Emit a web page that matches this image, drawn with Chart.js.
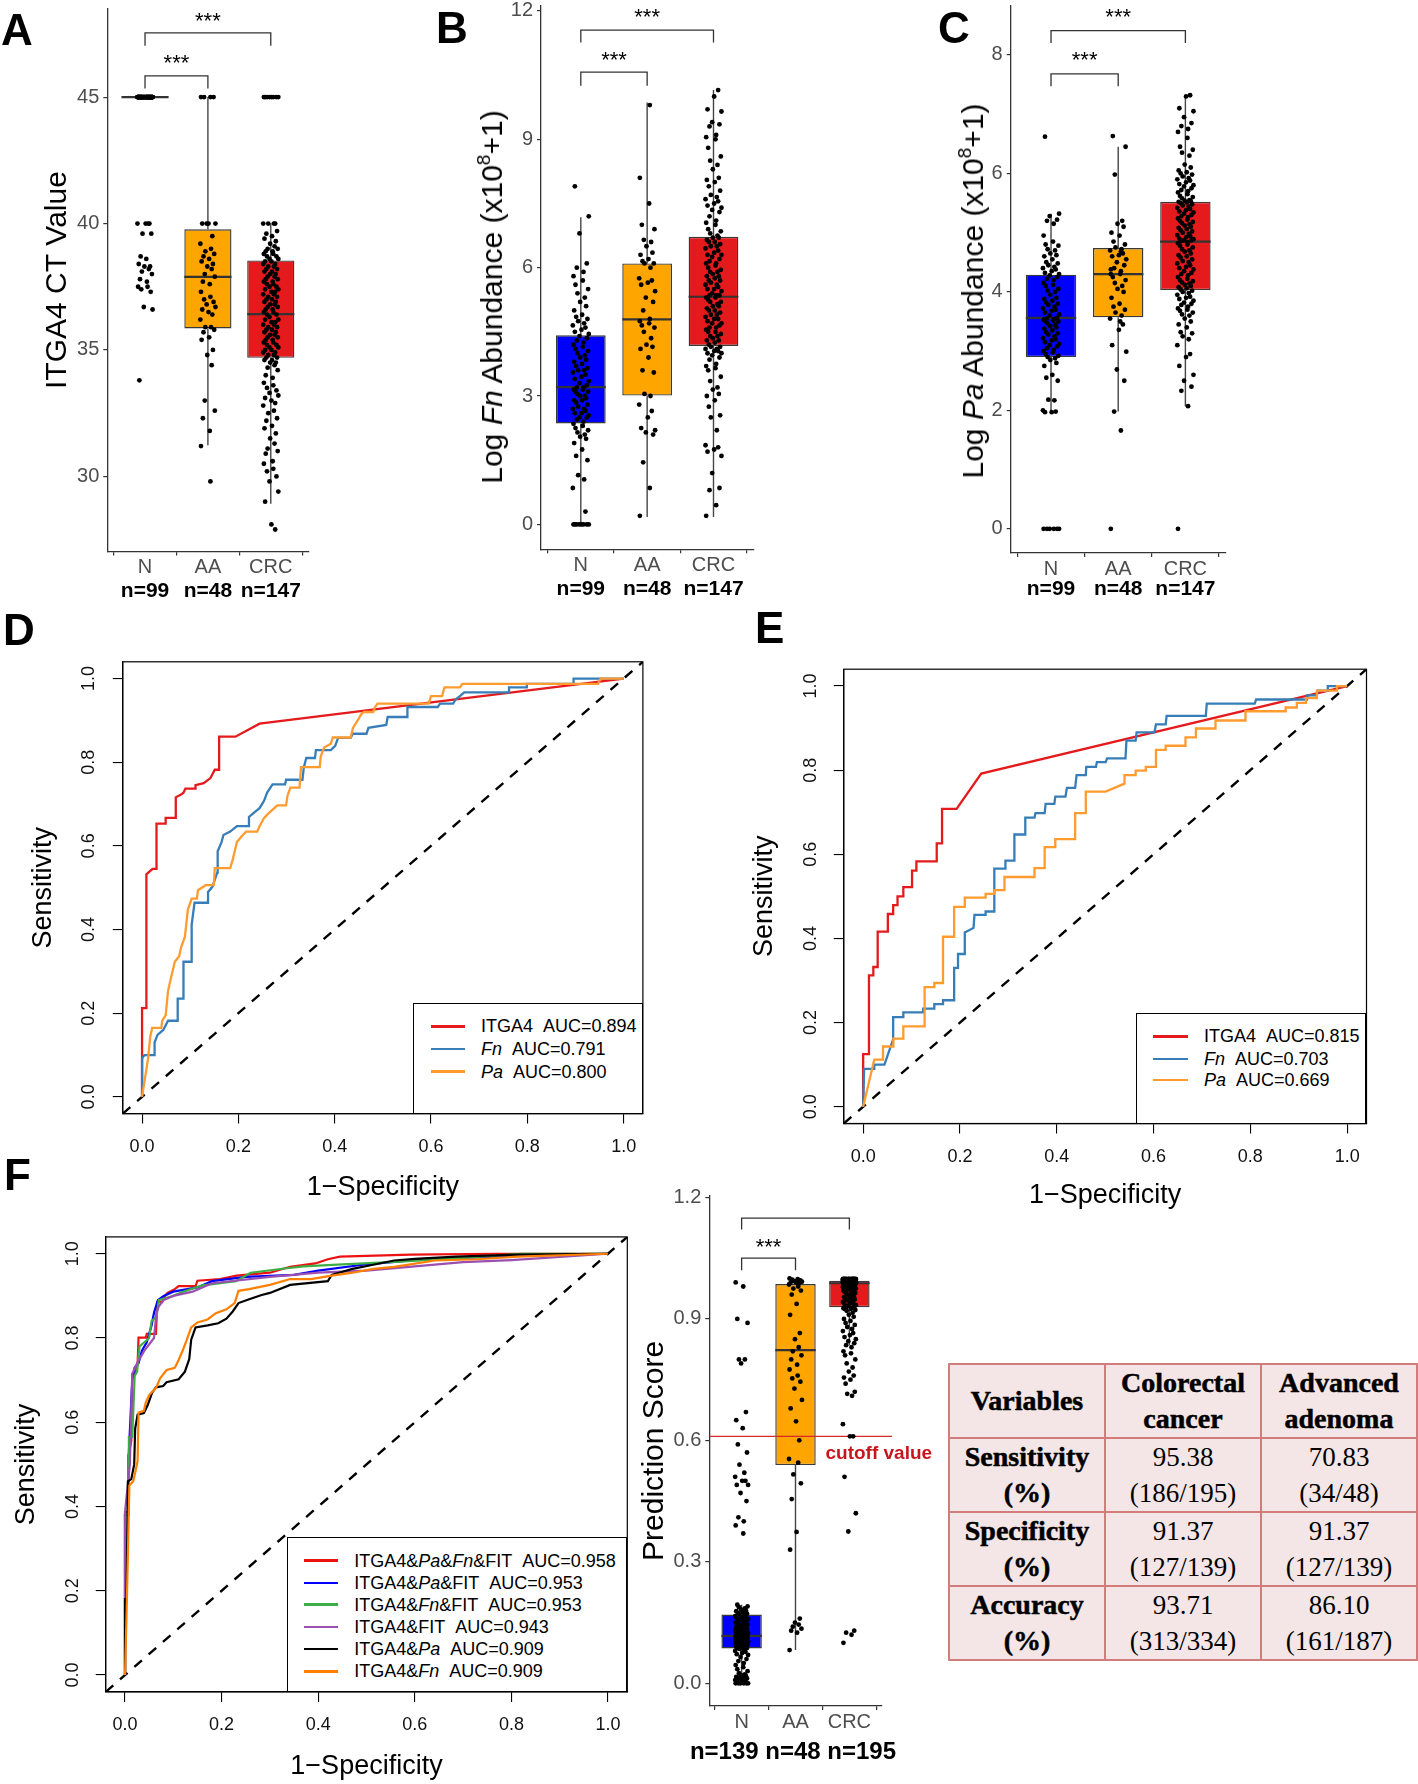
<!DOCTYPE html>
<html><head><meta charset="utf-8"><title>Figure</title>
<script src="https://cdn.jsdelivr.net/npm/chart.js@4.4.1/dist/chart.umd.min.js"></script>
<style>
html,body{margin:0;padding:0;background:#fff;}
#page{position:relative;width:1418px;height:1784px;overflow:hidden;background:#fff;font-family:"Liberation Sans",Arial,Helvetica,sans-serif;color:#000;}
#page canvas{position:absolute;}
.letter{position:absolute;font-weight:bold;font-size:44px;line-height:44px;}
.vtitle{position:absolute;white-space:nowrap;font-size:30px;line-height:36px;transform:translate(-50%,-50%) rotate(-90deg);}
.vtitle .sup{font-size:19px;position:relative;top:-12px;}
.ntitle{position:absolute;white-space:nowrap;font-size:24px;line-height:28px;font-weight:bold;transform:translate(-50%,-50%);}
.legend{position:absolute;border:1.3px solid #000;box-sizing:border-box;background:#fff;}
.legend .ln{position:absolute;height:2.4px;}
.legend .tx{position:absolute;white-space:nowrap;font-size:18px;line-height:22px;}
#tbl{position:absolute;left:948px;top:1363px;width:468px;height:292px;border-collapse:collapse;background:#F4E6E6;font-family:"Liberation Serif","Times New Roman",serif;table-layout:fixed;}
#tbl td,#tbl th{border:2px solid #D27C7C;text-align:center;vertical-align:middle;padding:0;font-size:27px;line-height:36px;color:#000;}
#tbl th{font-weight:bold;font-size:28px;-webkit-text-stroke:0.5px #000;}
</style></head><body><div id="page"></div>
<script>
const FONT = '"Liberation Sans", Arial, Helvetica, sans-serif';
Chart.defaults.font.family = FONT;

// ================= DATA =================
const CATS = ['N', 'AA', 'CRC'];
const N_ABC = [99, 48, 147];
const N_F = [139, 48, 195];
const A_TICKS = [30, 35, 40, 45];
const B_TICKS = [0, 3, 6, 9, 12];
const C_TICKS = [0, 2, 4, 6, 8];
const F_TICKS = [0, 0.3, 0.6, 0.9, 1.2];
const ROC_TICKS = [0, 0.2, 0.4, 0.6, 0.8, 1.0];

// Box statistics (N, AA, CRC)
const A_Q1 = [45, 35.85, 34.69], A_MED = [45, 37.89, 36.42], A_Q3 = [45, 39.77, 38.54], A_LO = [45, 31.23, 28.92], A_HI = [45, 45, 40];
const B_Q1 = [2.36, 3.01, 4.17], B_MED = [3.21, 4.79, 5.32], B_Q3 = [4.42, 6.10, 6.72], B_LO = [0, 0.17, 0.17], B_HI = [7.18, 9.86, 10.15];
const C_Q1 = [2.90, 3.57, 4.03], C_MED = [3.56, 4.30, 4.85], C_Q3 = [4.29, 4.74, 5.52], C_LO = [1.97, 1.98, 2.07], C_HI = [5.32, 6.45, 7.32];
const F_Q1 = [0.086, 0.539, 0.929], F_MED = [0.117, 0.823, 0.988], F_Q3 = [0.170, 0.986, 0.994], F_LO = [0, 0.082, 0.835], F_HI = [0.194, 0.998, 1.0];

// Individual sample values
const A_N = [45,45,45,45,45,45,45,45,45,45,45,45,45,45,45,45,45,45,45,45,45,45,45,45,45,45,45,45,45,45,45,45,45,45,45,45,45,45,45,45,45,45,45,45,45,45,45,45,45,45,45,45,45,45,45,45,45,45,45,45,45,45,45,45,45,45,45,45,45,45,45,45,45,45,45,45,
  40,40,40,40,39.6,39.6,38.7,38.6,38.4,38.3,38.3,38.2,38.1,38.0,37.8,37.7,37.5,37.5,37.4,37.3,36.7,36.6,33.8];
const A_AA = [45,45,45,45,40,40,40,40,39.5,39.2,39.0,38.9,38.8,38.7,38.6,38.5,38.4,38.3,38.2,38.0,37.9,37.7,37.6,37.3,37.1,37.0,36.9,36.8,36.7,36.6,36.5,36.4,36.2,35.9,35.9,35.8,35.7,35.5,35.4,35.0,34.8,34.4,33.0,32.6,32.3,31.8,31.2,29.8];
const A_CRC = [45,45,45,45,45,45,45,45,40,40,40,40,
  39.7,39.6,39.5,39.4,39.3,39.2,39.1,39.0,39.0,38.9,38.9,38.8,38.8,38.7,38.7,38.6,38.6,38.5,38.5,
  38.4,38.4,38.3,38.3,38.2,38.2,38.1,38.1,38.0,38.0,37.9,37.9,37.8,37.8,37.7,37.7,37.6,37.6,37.5,37.5,37.4,37.4,37.3,37.3,37.2,37.2,37.1,37.1,37.0,37.0,36.9,36.9,36.8,36.8,36.7,36.7,36.6,36.6,36.5,36.5,36.4,36.4,
  36.3,
  36.2,36.2,36.1,36.1,36.0,36.0,35.9,35.9,35.8,35.8,35.7,35.7,35.6,35.6,35.5,35.5,35.4,35.4,35.3,35.3,35.2,35.2,35.1,35.1,35.0,35.0,34.9,34.9,34.8,34.8,34.7,34.7,34.6,34.6,34.5,34.5,34.4,
  34.3,34.2,34.0,33.9,33.7,33.6,33.5,33.4,33.3,33.2,33.1,33.0,32.9,32.8,32.6,32.5,32.3,32.2,32.0,31.9,31.7,31.5,31.3,31.1,31.0,30.9,30.6,30.5,30.3,30.2,30.0,29.8,29.4,29.0,28.1,27.9];

const B_N = [0,0,0,0,0,0,0,0,0.3,0.85,1.05,1.15,1.5,1.6,1.75,1.9,2.0,2.05,2.1,2.15,2.2,2.25,
  2.3,2.35,2.4,2.45,2.5,2.5,2.55,2.6,2.6,2.65,2.7,2.7,2.75,2.8,2.85,2.9,2.9,2.95,3.0,3.0,3.05,3.1,3.1,3.15,3.15,3.2,3.2,
  3.25,
  3.3,3.35,3.4,3.45,3.5,3.55,3.6,3.6,3.65,3.7,3.75,3.8,3.85,3.9,3.95,4.0,4.05,4.1,4.15,4.2,4.25,4.3,4.35,4.4,4.45,
  4.5,4.55,4.6,4.65,4.7,4.75,4.8,4.85,4.9,5.0,5.1,5.2,5.3,5.4,5.5,5.6,5.7,5.8,5.9,6.0,6.1,6.8,7.2,7.9];
const B_AA = [0.2,0.85,1.45,2.1,2.15,2.2,2.25,2.5,2.65,2.8,3.0,3.05,3.55,3.6,3.9,4.1,4.15,4.2,4.35,4.5,4.6,4.65,4.7,4.75,4.8,5.0,5.2,5.3,5.45,5.6,5.65,5.7,5.75,6.0,6.1,6.1,6.15,6.2,6.3,6.35,6.5,6.6,6.65,6.9,7.0,7.5,8.1,9.8];
const B_CRC = [0.2,0.45,0.8,0.85,1.2,1.6,1.7,1.75,1.8,1.85,2.2,2.5,2.55,2.75,2.9,3.0,3.05,3.15,3.2,3.35,3.45,3.6,3.65,3.7,3.75,3.85,3.9,3.95,4.0,4.0,4.05,4.05,4.1,4.1,4.15,4.15,4.2,
  4.25,4.3,4.3,4.35,4.4,4.4,4.45,4.5,4.5,4.55,4.6,4.6,4.65,4.7,4.7,4.75,4.8,4.8,4.85,4.9,4.9,4.95,5.0,5.0,5.05,5.1,5.1,5.15,5.2,5.2,5.25,5.3,5.3,5.35,5.35,5.35,
  5.4,
  5.45,5.5,5.5,5.55,5.6,5.6,5.65,5.7,5.7,5.75,5.8,5.8,5.85,5.9,5.9,5.95,6.0,6.05,6.1,6.1,6.15,6.2,6.25,6.3,6.3,6.35,6.4,6.45,6.5,6.5,6.55,6.6,6.6,6.65,6.7,6.7,6.75,
  6.8,6.85,6.9,7.0,7.05,7.1,7.2,7.3,7.35,7.4,7.45,7.5,7.55,7.6,7.65,7.7,7.8,7.9,8.0,8.05,8.1,8.3,8.4,8.5,8.6,8.8,9.0,9.05,9.1,9.3,9.35,9.4,9.65,9.7,10.0,10.15];

const C_N = [0,0,0,0,0,0,1.97,1.97,1.98,2.0,2.17,2.18,2.5,2.55,2.6,2.75,2.8,2.85,2.88,
  2.9,2.92,2.95,2.98,3.0,3.02,3.05,3.08,3.1,3.12,3.15,3.18,3.2,3.22,3.25,3.28,3.3,3.32,3.35,3.38,3.4,3.42,3.45,3.47,3.5,3.5,3.52,3.53,3.54,3.55,
  3.56,
  3.6,3.62,3.65,3.68,3.7,3.72,3.75,3.78,3.8,3.82,3.85,3.88,3.9,3.95,4.0,4.02,4.05,4.1,4.12,4.15,4.2,4.22,4.25,4.28,4.3,
  4.32,4.35,4.38,4.4,4.42,4.45,4.48,4.5,4.55,4.6,4.62,4.65,4.7,4.72,4.78,4.8,4.85,4.95,5.15,5.2,5.22,5.28,5.32,6.62];
const C_AA = [0,1.66,1.98,2.5,2.69,2.99,3.1,3.36,3.45,3.55,3.6,3.65,3.7,3.75,3.8,3.9,4.0,4.05,4.1,4.15,4.2,4.25,4.3,4.3,4.35,4.4,4.45,4.5,4.55,4.6,4.62,4.65,4.7,4.72,4.75,4.8,4.85,4.95,5.0,5.1,5.15,5.2,5.98,6.45,6.63,3.5,4.38,4.68];
const C_CRC = [0,2.07,2.33,2.4,2.5,2.6,2.75,2.9,2.95,3.1,3.2,3.25,3.3,3.32,3.4,3.45,3.5,3.55,3.6,3.62,3.65,3.68,3.7,3.72,3.75,3.78,3.8,3.82,3.85,3.88,3.9,3.92,3.95,3.98,4.0,4.02,4.04,
  4.06,4.08,4.1,4.12,4.14,4.16,4.18,4.2,4.22,4.25,4.28,4.3,4.32,4.35,4.38,4.4,4.42,4.45,4.48,4.5,4.52,4.55,4.58,4.6,4.62,4.65,4.68,4.7,4.72,4.75,4.78,4.8,4.82,4.84,4.86,4.87,
  4.87,
  4.89,4.9,4.92,4.94,4.96,4.98,5.0,5.02,5.04,5.06,5.08,5.1,5.12,5.14,5.16,5.18,5.2,5.22,5.24,5.26,5.28,5.3,5.32,5.34,5.36,5.38,5.4,5.42,5.44,5.46,5.48,5.5,5.51,5.52,5.53,5.54,5.55,
  5.58,5.6,5.62,5.65,5.68,5.7,5.72,5.75,5.78,5.8,5.82,5.85,5.88,5.9,5.92,5.95,5.98,6.0,6.02,6.05,6.1,6.15,6.3,6.35,6.4,6.45,6.6,6.7,6.75,6.8,6.85,6.95,7.05,7.1,7.3,7.32];

const F_N = [0,0,0,0,0,0,0.003,0.005,0.006,0.008,0.01,0.01,0.012,0.014,0.015,0.016,0.018,0.02,0.022,0.025,0.03,0.035,0.04,0.045,0.05,0.055,0.06,0.065,0.07,0.072,0.075,0.078,0.08,0.082,0.085,
  0.087,0.088,0.089,0.09,0.091,0.092,0.093,0.094,0.095,0.096,0.097,0.098,0.099,0.1,0.101,0.102,0.103,0.104,0.105,0.106,0.107,0.108,0.109,0.11,0.111,0.112,0.113,0.113,0.114,0.114,0.115,0.115,0.116,0.116,0.117,
  0.118,0.12,0.121,0.122,0.124,0.125,0.126,0.128,0.13,0.131,0.132,0.134,0.135,0.136,0.138,0.14,0.141,0.142,0.144,0.145,0.146,0.148,0.15,0.152,0.154,0.155,0.157,0.159,0.16,0.162,0.164,0.166,0.168,0.17,
  0.172,0.174,0.176,0.178,0.18,0.182,0.185,0.188,0.19,0.194,
  0.37,0.39,0.4,0.41,0.45,0.47,0.49,0.49,0.5,0.5,0.51,0.52,0.54,0.57,0.59,0.63,0.65,0.67,0.79,0.8,0.8,0.89,0.9,0.98,0.99];
const F_AA = [1.0,0.998,0.997,0.995,0.993,0.992,0.99,0.99,0.988,0.985,0.98,0.975,0.97,0.96,0.937,0.91,0.865,0.85,0.83,0.82,0.81,0.8,0.787,0.775,0.76,0.753,0.745,0.728,0.7,0.679,0.647,0.6,0.554,0.545,0.516,0.494,0.455,0.374,0.33,0.16,0.15,0.145,0.14,0.135,0.13,0.125,0.082,0.99];
const F_CRC = [0.1,0.12,0.125,0.13,0.375,0.42,0.51,0.61,0.61,0.64,0.71,0.715,0.72,0.74,0.75,0.755,0.76,0.77,0.78,0.79,0.8,0.81,0.815,0.82,0.83,0.835,0.84,0.845,0.85,0.855,0.86,0.865,0.87,0.875,0.88,0.885,0.89,0.895,0.9,0.905,0.91,0.915,0.92,0.922,0.924,0.925,0.926,0.927,0.928,
  0.93,0.932,0.934,0.936,0.938,0.94,0.942,0.944,0.946,0.948,0.95,0.952,0.954,0.956,0.958,0.96,0.962,0.964,0.966,0.968,0.97,0.971,0.972,0.973,0.974,0.975,0.976,0.977,0.978,0.979,0.98,0.98,0.981,0.981,0.982,0.982,0.983,0.983,0.984,0.984,0.985,0.985,0.986,0.986,0.987,0.987,0.987,0.988,0.988,
  0.989,0.989,0.989,0.989,0.989,0.989,0.989,0.989,0.989,0.989,0.989,0.989,0.99,0.99,0.99,0.99,0.99,0.99,0.99,0.99,0.99,0.99,0.99,0.99,0.991,0.991,0.991,0.991,0.991,0.991,0.991,0.991,0.992,0.992,0.992,0.992,0.992,0.992,0.992,0.992,0.993,0.993,0.993,0.993,0.993,0.993,0.993,0.993,
  0.995,0.995,0.995,0.995,0.995,0.995,0.995,0.995,0.995,0.995,0.996,0.996,0.996,0.996,0.996,0.996,0.996,0.996,0.996,0.996,0.997,0.997,0.997,0.997,0.997,0.997,0.997,0.997,0.997,0.997,0.998,0.998,0.998,0.998,0.998,0.998,0.998,0.998,0.998,0.998,0.999,0.999,0.999,0.999,0.999,0.999,0.999,0.999,0.999];

// Significance brackets: group from/to, bracket top, leg end, star baseline
const A_BRACKETS = [{from:1, to:3, top:47.54, leg:47.03, star:47.73}, {from:1, to:2, top:45.84, leg:45.34, star:46.07}];
const B_BRACKETS = [{from:1, to:3, top:11.55, leg:11.26, star:11.69}, {from:1, to:2, top:10.57, leg:10.25, star:10.69}];
const C_BRACKETS = [{from:1, to:3, top:8.41, leg:8.20, star:8.52}, {from:1, to:2, top:7.68, leg:7.47, star:7.79}];
const F_BRACKETS = [{from:1, to:3, top:1.149, leg:1.121, star:null}, {from:1, to:2, top:1.05, leg:1.02, star:1.06}];
const CUTOFF = 0.61;

// ROC curves: [1-specificity, sensitivity]
const D_ITGA4 = [[0,0],[0,0.212],[0.009,0.212],[0.009,0.532],[0.017,0.54],[0.022,0.545],[0.03,0.545],[0.03,0.653],[0.049,0.653],[0.049,0.667],[0.07,0.667],[0.07,0.716],[0.08,0.722],[0.086,0.727],[0.09,0.737],[0.111,0.737],[0.111,0.745],[0.128,0.75],[0.142,0.762],[0.151,0.782],[0.16,0.782],[0.16,0.861],[0.194,0.861],[0.244,0.892],[1,1]];
const D_FN = [[0,0],[0,0.092],[0.005,0.1],[0.026,0.1],[0.026,0.13],[0.032,0.148],[0.044,0.16],[0.054,0.182],[0.074,0.182],[0.074,0.235],[0.086,0.235],[0.086,0.323],[0.103,0.323],[0.103,0.412],[0.109,0.464],[0.137,0.464],[0.137,0.49],[0.146,0.502],[0.156,0.536],[0.157,0.587],[0.165,0.609],[0.169,0.626],[0.183,0.634],[0.197,0.647],[0.22,0.647],[0.222,0.669],[0.23,0.677],[0.244,0.69],[0.253,0.707],[0.26,0.728],[0.271,0.747],[0.297,0.747],[0.299,0.758],[0.333,0.758],[0.336,0.788],[0.341,0.81],[0.359,0.81],[0.361,0.829],[0.392,0.829],[0.401,0.839],[0.407,0.858],[0.433,0.858],[0.438,0.868],[0.466,0.868],[0.47,0.882],[0.507,0.889],[0.51,0.908],[0.551,0.908],[0.551,0.932],[0.614,0.932],[0.619,0.94],[0.646,0.94],[0.651,0.95],[0.66,0.958],[0.669,0.967],[0.762,0.967],[0.762,0.979],[0.799,0.979],[0.799,0.987],[0.896,0.987],[0.896,1],[1,1]];
const D_PA = [[0,0],[0.012,0.088],[0.017,0.143],[0.021,0.165],[0.04,0.165],[0.042,0.182],[0.049,0.195],[0.054,0.254],[0.06,0.284],[0.068,0.323],[0.077,0.336],[0.081,0.357],[0.089,0.383],[0.095,0.447],[0.103,0.474],[0.114,0.474],[0.116,0.494],[0.132,0.506],[0.149,0.506],[0.151,0.547],[0.183,0.547],[0.188,0.566],[0.197,0.609],[0.206,0.622],[0.216,0.634],[0.239,0.634],[0.244,0.647],[0.253,0.666],[0.262,0.677],[0.281,0.697],[0.299,0.697],[0.302,0.72],[0.308,0.739],[0.327,0.739],[0.33,0.788],[0.369,0.788],[0.371,0.814],[0.378,0.835],[0.392,0.844],[0.396,0.859],[0.433,0.859],[0.438,0.882],[0.447,0.899],[0.456,0.916],[0.461,0.92],[0.48,0.92],[0.484,0.932],[0.489,0.94],[0.595,0.94],[0.6,0.958],[0.623,0.958],[0.628,0.979],[0.66,0.979],[0.665,0.987],[0.947,0.987],[0.952,1],[1,1]];

const E_ITGA4 = [[0,0],[0,0.125],[0.012,0.125],[0.012,0.312],[0.021,0.312],[0.021,0.332],[0.03,0.332],[0.03,0.416],[0.051,0.416],[0.051,0.458],[0.062,0.458],[0.062,0.479],[0.071,0.479],[0.071,0.5],[0.083,0.5],[0.083,0.522],[0.101,0.522],[0.101,0.561],[0.11,0.561],[0.11,0.583],[0.152,0.583],[0.152,0.626],[0.163,0.626],[0.163,0.708],[0.193,0.708],[0.244,0.792],[1,1]];
const E_FN = [[0,0],[0.002,0.09],[0.023,0.09],[0.023,0.1],[0.044,0.1],[0.062,0.16],[0.062,0.213],[0.083,0.213],[0.083,0.224],[0.124,0.224],[0.124,0.233],[0.147,0.233],[0.147,0.244],[0.165,0.244],[0.165,0.253],[0.188,0.253],[0.188,0.33],[0.196,0.33],[0.196,0.363],[0.21,0.363],[0.21,0.414],[0.228,0.425],[0.23,0.456],[0.253,0.456],[0.253,0.464],[0.271,0.464],[0.271,0.566],[0.294,0.566],[0.294,0.585],[0.3125,0.585],[0.3125,0.647],[0.335,0.647],[0.335,0.687],[0.354,0.687],[0.356,0.698],[0.375,0.698],[0.377,0.72],[0.395,0.72],[0.397,0.737],[0.418,0.737],[0.421,0.758],[0.438,0.758],[0.441,0.788],[0.46,0.788],[0.461,0.808],[0.481,0.808],[0.483,0.819],[0.501,0.819],[0.504,0.828],[0.542,0.828],[0.544,0.87],[0.563,0.87],[0.565,0.89],[0.602,0.89],[0.605,0.909],[0.625,0.909],[0.627,0.929],[0.708,0.929],[0.71,0.958],[0.809,0.958],[0.812,0.968],[0.915,0.968],[0.917,0.978],[0.9375,0.978],[0.939,0.989],[0.96,0.989],[0.96,1],[1,1]];
const E_PA = [[0,0],[0.023,0.112],[0.041,0.112],[0.041,0.143],[0.0625,0.143],[0.0625,0.162],[0.083,0.162],[0.083,0.191],[0.127,0.191],[0.127,0.284],[0.147,0.284],[0.147,0.294],[0.165,0.294],[0.165,0.404],[0.188,0.404],[0.188,0.475],[0.21,0.475],[0.21,0.497],[0.253,0.497],[0.253,0.506],[0.271,0.506],[0.271,0.515],[0.292,0.515],[0.292,0.546],[0.354,0.546],[0.354,0.567],[0.375,0.567],[0.375,0.617],[0.397,0.617],[0.397,0.636],[0.438,0.636],[0.438,0.698],[0.46,0.698],[0.46,0.749],[0.501,0.749],[0.54,0.768],[0.54,0.788],[0.563,0.788],[0.563,0.799],[0.584,0.799],[0.584,0.808],[0.605,0.808],[0.605,0.848],[0.625,0.848],[0.625,0.858],[0.666,0.858],[0.666,0.878],[0.6875,0.878],[0.6875,0.899],[0.728,0.899],[0.728,0.918],[0.79,0.918],[0.79,0.94],[0.873,0.94],[0.873,0.949],[0.896,0.949],[0.896,0.96],[0.915,0.96],[0.915,0.971],[0.9375,0.971],[0.9375,0.989],[0.979,0.989],[0.979,1],[1,1]];

const F_ALL = [[0,0],[0,0.387],[0.007,0.387],[0.007,0.52],[0.013,0.556],[0.015,0.714],[0.021,0.714],[0.026,0.738],[0.028,0.801],[0.043,0.801],[0.045,0.81],[0.064,0.81],[0.067,0.885],[0.077,0.885],[0.079,0.894],[0.088,0.907],[0.103,0.916],[0.111,0.923],[0.146,0.923],[0.15,0.936],[0.197,0.94],[0.231,0.948],[0.3,0.955],[0.342,0.969],[0.394,0.977],[0.42,0.987],[0.445,0.993],[0.591,0.998],[0.77,1],[1,1]];
const F_PAFIT = [[0,0],[0,0.38],[0.008,0.38],[0.008,0.53],[0.015,0.7],[0.02,0.73],[0.028,0.74],[0.035,0.77],[0.045,0.79],[0.055,0.83],[0.06,0.86],[0.068,0.89],[0.08,0.9],[0.1,0.91],[0.15,0.92],[0.18,0.935],[0.25,0.945],[0.35,0.95],[0.4,0.96],[0.5,0.975],[0.6,0.985],[0.7,0.99],[0.8,0.995],[1,1]];
const F_FNFIT = [[0,0],[0,0.38],[0.008,0.38],[0.008,0.565],[0.015,0.565],[0.02,0.71],[0.025,0.72],[0.03,0.78],[0.04,0.79],[0.05,0.8],[0.055,0.84],[0.065,0.85],[0.07,0.89],[0.1,0.9],[0.12,0.91],[0.16,0.925],[0.23,0.935],[0.26,0.955],[0.33,0.965],[0.37,0.97],[0.45,0.975],[0.55,0.98],[0.7,0.99],[0.82,1],[1,1]];
const F_FIT = [[0,0],[0,0.387],[0.01,0.5],[0.015,0.715],[0.025,0.74],[0.04,0.77],[0.06,0.8],[0.065,0.86],[0.07,0.875],[0.08,0.89],[0.1,0.9],[0.14,0.91],[0.18,0.93],[0.3,0.945],[0.4,0.955],[0.5,0.96],[0.6,0.97],[0.7,0.98],[0.8,0.985],[1,1]];
const F_PA = [[0,0],[0,0.18],[0.003,0.18],[0.006,0.46],[0.013,0.465],[0.019,0.5],[0.021,0.585],[0.026,0.618],[0.039,0.622],[0.047,0.641],[0.056,0.67],[0.064,0.683],[0.079,0.686],[0.086,0.695],[0.111,0.702],[0.124,0.72],[0.133,0.75],[0.137,0.796],[0.146,0.825],[0.171,0.83],[0.193,0.835],[0.21,0.846],[0.223,0.863],[0.235,0.883],[0.257,0.892],[0.283,0.902],[0.3,0.907],[0.342,0.926],[0.42,0.935],[0.428,0.95],[0.471,0.964],[0.514,0.974],[0.557,0.984],[0.6,0.988],[0.685,0.993],[0.813,0.998],[1,1]];
const F_FN = [[0,0],[0.004,0.183],[0.009,0.45],[0.017,0.46],[0.021,0.48],[0.026,0.508],[0.028,0.623],[0.039,0.627],[0.043,0.647],[0.051,0.666],[0.064,0.681],[0.073,0.705],[0.086,0.724],[0.103,0.729],[0.111,0.748],[0.12,0.772],[0.128,0.796],[0.137,0.825],[0.15,0.837],[0.171,0.844],[0.188,0.859],[0.21,0.868],[0.227,0.883],[0.235,0.912],[0.257,0.916],[0.3,0.926],[0.342,0.94],[0.385,0.94],[0.428,0.948],[0.471,0.955],[0.514,0.964],[0.557,0.969],[0.642,0.984],[0.728,0.987],[0.813,0.993],[1,1]];
const DIAG = [[-0.04,-0.04],[1.04,1.04]];

const D_NAMES = ['ITGA4', '<i>Fn</i>', '<i>Pa</i>'];
const D_AUC = ['0.894', '0.791', '0.800'];
const E_AUC = ['0.815', '0.703', '0.669'];
const F_NAMES = ['ITGA4&amp;<i>Pa</i>&amp;<i>Fn</i>&amp;FIT', 'ITGA4&amp;<i>Pa</i>&amp;FIT', 'ITGA4&amp;<i>Fn</i>&amp;FIT', 'ITGA4&amp;FIT', 'ITGA4&amp;<i>Pa</i>', 'ITGA4&amp;<i>Fn</i>'];
const F_AUC = ['0.958', '0.953', '0.953', '0.943', '0.909', '0.909'];

const TBL_HEAD = ['Variables', 'Colorectal<br>cancer', 'Advanced<br>adenoma'];
const TBL_ROWS = ['Sensitivity', 'Specificity', 'Accuracy'];
const TBL_CRC_PCT = ['95.38', '91.37', '93.71'];
const TBL_CRC_FRAC = ['186/195', '127/139', '313/334'];
const TBL_AA_PCT = ['70.83', '91.37', '86.10'];
const TBL_AA_FRAC = ['34/48', '127/139', '161/187'];

// ================= STYLE / LAYOUT =================
const BOX_COLORS = ['#0000FF', '#FFA500', '#E41A1C'];
const D_COLORS = ['#E41A1C', '#377EB8', '#FF9B2F'];
const F_COLORS = ['#EE1111', '#0000FF', '#3DAE45', '#9B4FB0', '#000000', '#FF7F00'];
const JITTER = [-0.11,0.04,-0.06,0.09,-0.02,0.12,-0.09,0.01,0.07,-0.12,0.05,-0.04,0.10,-0.07,0.02,-0.10,0.08,-0.01,0.06,-0.05,0.11,-0.08,0.03];
const HALF = 0.375;
const page = document.getElementById('page');

function mkCanvas(left, top, w, h) {
  const c = document.createElement('canvas');
  c.width = w; c.height = h;
  c.style.left = left + 'px'; c.style.top = top + 'px';
  c.style.width = w + 'px'; c.style.height = h + 'px';
  page.appendChild(c);
  return c;
}

function notesPlugin(notes) {
  return {id: 'notes', afterDatasetsDraw(chart) {
    const ctx = chart.ctx, xs = chart.scales.x, ys = chart.scales.y;
    ctx.save();
    notes.forEach(n => {
      ctx.font = n.font; ctx.fillStyle = n.color; ctx.textAlign = n.align; ctx.textBaseline = n.baseline;
      ctx.fillText(n.text, xs.getPixelForValue(n.x), ys.getPixelForValue(n.y));
    });
    ctx.restore();
  }};
}
const framePlugin = {id: 'frame', afterDatasetsDraw(chart) {
  const a = chart.chartArea, ctx = chart.ctx;
  ctx.save(); ctx.strokeStyle = '#000'; ctx.lineWidth = 1.2;
  ctx.strokeRect(a.left, a.top, a.right - a.left, a.bottom - a.top);
  ctx.restore();
}};

function boxDatasets(S) {
  const ds = [];
  const wh = [];
  S.q1.forEach((q, i) => {
    const x = i + 1;
    if (S.lo[i] < q) wh.push({x, y: S.lo[i]}, {x, y: q}, {x, y: null});
    if (S.hi[i] > S.q3[i]) wh.push({x, y: S.q3[i]}, {x, y: S.hi[i]}, {x, y: null});
  });
  ds.push({type: 'scatter', showLine: true, data: wh, borderColor: '#444', borderWidth: 1.4, pointRadius: 0, spanGaps: false, order: 7});
  ds.push({type: 'bar', data: S.q1.map((q, i) => ({x: i + 1, y: [q, S.q3[i]]})), backgroundColor: BOX_COLORS, borderColor: '#3a3a3a', borderWidth: 1.4, borderSkipped: false, barPercentage: 0.75, categoryPercentage: 1, order: 6});
  const md = [];
  S.med.forEach((m, i) => md.push({x: i + 1 - HALF, y: m}, {x: i + 1 + HALF, y: m}, {x: i + 1 + HALF, y: null}));
  ds.push({type: 'scatter', showLine: true, data: md, borderColor: '#333', borderWidth: 2.2, pointRadius: 0, spanGaps: false, order: 5});
  const br = [];
  S.brackets.forEach(b => br.push({x: b.from, y: b.leg}, {x: b.from, y: b.top}, {x: b.to, y: b.top}, {x: b.to, y: b.leg}, {x: b.to, y: null}));
  ds.push({type: 'scatter', showLine: true, data: br, borderColor: '#333', borderWidth: 1.3, pointRadius: 0, spanGaps: false, clip: false, order: 7});
  if (S.cutoff !== undefined) {
    ds.push({type: 'scatter', showLine: true, data: [{x: 0.4, y: S.cutoff}, {x: 3.79, y: S.cutoff}], borderColor: '#D42A2A', borderWidth: 1.3, pointRadius: 0, clip: false, order: 3});
  }
  const pts = [];
  S.pts.forEach((arr, g) => arr.forEach((v, i) => pts.push({x: g + 1 + JITTER[i % JITTER.length], y: v})));
  ds.push({type: 'scatter', data: pts, backgroundColor: '#000', borderColor: '#000', borderWidth: 0, pointRadius: 2.4, clip: false, order: 1});
  return ds;
}

function boxPanel(L, S) {
  const c = mkCanvas(L.left, L.top, L.w, L.h);
  const tickIds = s => { s.ticks = [1, 2, 3].map(v => ({value: v})); };
  const notes = S.brackets.filter(b => b.star !== null).map(b => ({x: (b.from + b.to) / 2, y: b.star, text: '***', font: '22px ' + FONT, color: '#000', align: 'center', baseline: 'alphabetic'}));
  if (S.cutoffLabel) notes.push(S.cutoffLabel);
  const nAsText = !!L.nText;
  new Chart(c, {
    type: 'scatter',
    data: {datasets: boxDatasets(S)},
    options: {
      responsive: false, animation: false, devicePixelRatio: 1, events: [],
      layout: {padding: {top: L.padTop, right: L.padRight, left: 0, bottom: 0}},
      plugins: {legend: {display: false}, tooltip: {enabled: false}},
      scales: {
        x: {type: 'linear', position: 'bottom', min: 0.4, max: 3.6, offset: false, afterBuildTicks: tickIds,
            ticks: {callback: v => CATS[v - 1], color: '#4D4D4D', font: {size: 20}, padding: 0, maxRotation: 0, minRotation: 0, autoSkip: false},
            grid: {drawOnChartArea: false, drawTicks: true, tickLength: 4, color: '#333', lineWidth: 1.2},
            border: {display: true, color: '#333', width: 1.3},
            afterFit: s => { s.height = L.xH; s.paddingLeft = 0; s.paddingRight = 0; }},
        xn: {type: 'linear', position: 'bottom', weight: 1, min: 0.4, max: 3.6, offset: false, afterBuildTicks: tickIds,
            ticks: {display: !nAsText, callback: v => 'n=' + S.n[v - 1], color: '#000', font: {size: L.nFont, weight: 'bold'}, padding: 0, maxRotation: 0, minRotation: 0, autoSkip: false},
            grid: {display: false, drawTicks: false}, border: {display: false},
            afterFit: s => { s.height = L.xnH; s.paddingLeft = 0; s.paddingRight = 0; }},
        y: {type: 'linear', position: 'left', min: S.yMin, max: S.yMax,
            afterBuildTicks: s => { s.ticks = S.ticks.map(v => ({value: v})); },
            ticks: {callback: S.fmt, color: '#4D4D4D', font: {size: 20}, padding: 4, autoSkip: false},
            grid: {drawOnChartArea: false, drawTicks: true, tickLength: 4, color: '#333', lineWidth: 1.2},
            border: {display: true, color: '#333', width: 1.3},
            title: {display: !!S.title, text: S.title || '', color: '#000', font: {size: 30}, padding: {top: L.titlePad, bottom: 0}},
            afterFit: s => { s.width = L.yW; s.paddingTop = 0; s.paddingBottom = 0; }}
      }
    },
    plugins: [notesPlugin(notes)]
  });
  if (nAsText) {
    const d = document.createElement('div'); d.className = 'ntitle';
    d.style.left = L.nText.cx + 'px'; d.style.top = L.nText.cy + 'px';
    d.textContent = S.n.map(v => 'n=' + v).join(' ');
    page.appendChild(d);
  }
}

function rocPanel(L, series) {
  const c = mkCanvas(L.left, L.top, L.w, L.h);
  const axisBase = {
    type: 'linear', min: -0.04, max: 1.04,
    afterBuildTicks: s => { s.ticks = ROC_TICKS.map(v => ({value: v})); },
    grid: {drawOnChartArea: false, drawTicks: true, tickLength: 10, color: '#000', lineWidth: 1.1},
    border: {display: true, color: '#000', width: 1.2}
  };
  new Chart(c, {
    type: 'scatter',
    data: {datasets: series.map(s => ({data: s.data.map(p => ({x: p[0], y: p[1]})), showLine: true, borderColor: s.color, borderWidth: s.width, borderDash: s.dash || [], pointRadius: 0, order: s.order}))},
    options: {
      responsive: false, animation: false, devicePixelRatio: 1, events: [],
      layout: {padding: {top: L.padTop, right: L.padRight, left: 0, bottom: 0}},
      plugins: {legend: {display: false}, tooltip: {enabled: false}},
      scales: {
        x: Object.assign({}, axisBase, {position: 'bottom',
            ticks: {callback: v => v.toFixed(1), color: '#111', font: {size: 18}, padding: L.xTickPad, maxRotation: 0, minRotation: 0, autoSkip: false},
            title: {display: true, text: '1\u2212Specificity', color: '#000', font: {size: 27}, padding: {top: 0, bottom: L.xTitlePad}},
            afterFit: s => { s.height = L.xH; s.paddingLeft = 0; s.paddingRight = 0; }}),
        y: Object.assign({}, axisBase, {position: 'left',
            ticks: {callback: v => v.toFixed(1), color: '#111', font: {size: 18}, padding: L.yTickPad, minRotation: 90, maxRotation: 90, crossAlign: 'center', autoSkip: false},
            title: {display: true, text: 'Sensitivity', color: '#000', font: {size: 27}, padding: {top: L.yTitlePad, bottom: 0}},
            afterFit: s => { s.width = L.yW; s.paddingTop = 0; s.paddingBottom = 0; }})
      }
    },
    plugins: [framePlugin]
  });
}

function legendBox(G, names, aucs, colors) {
  const d = document.createElement('div'); d.className = 'legend';
  d.style.left = G.left + 'px'; d.style.top = G.top + 'px'; d.style.width = G.w + 'px'; d.style.height = G.h + 'px';
  names.forEach((nm, i) => {
    const y = G.rows[i];
    const ln = document.createElement('div'); ln.className = 'ln';
    ln.style.left = G.lineX + 'px'; ln.style.width = G.lineW + 'px'; ln.style.top = (y - 1.2) + 'px'; ln.style.background = colors[i];
    const tx = document.createElement('div'); tx.className = 'tx';
    tx.style.left = G.textX + 'px'; tx.style.top = (y - 11) + 'px';
    tx.innerHTML = nm + '&nbsp;&nbsp;AUC=' + aucs[i];
    d.appendChild(ln); d.appendChild(tx);
  });
  page.appendChild(d);
}

function addDiv(cls, left, top, html) {
  const d = document.createElement('div'); d.className = cls;
  d.style.left = left + 'px'; d.style.top = top + 'px'; d.innerHTML = html;
  page.appendChild(d);
}

// ================= BUILD =================
const intFmt = v => String(v);
const dec1 = v => v.toFixed(1);

boxPanel({left: 0, top: 0, w: 340, h: 610, padTop: 8.6, padRight: 31.5, yW: 107.3, xH: 27.1, xnH: 31.4, nFont: 21, titlePad: 40},
  {q1: A_Q1, med: A_MED, q3: A_Q3, lo: A_LO, hi: A_HI, pts: [A_N, A_AA, A_CRC], n: N_ABC, ticks: A_TICKS, yMin: 27.03, yMax: 48.5, fmt: intFmt, brackets: A_BRACKETS, title: 'ITGA4 CT Value'});
boxPanel({left: 400, top: 0, w: 410, h: 610, padTop: 5.8, padRight: 56.7, yW: 141, xH: 27.5, xnH: 33.3, nFont: 21, titlePad: 0},
  {q1: B_Q1, med: B_MED, q3: B_Q3, lo: B_LO, hi: B_HI, pts: [B_N, B_AA, B_CRC], n: N_ABC, ticks: B_TICKS, yMin: -0.58, yMax: 12.12, fmt: intFmt, brackets: B_BRACKETS, title: ''});
boxPanel({left: 820, top: 0, w: 418, h: 610, padTop: 5.8, padRight: 12.3, yW: 190.7, xH: 23.6, xnH: 33.3, nFont: 21, titlePad: 0},
  {q1: C_Q1, med: C_MED, q3: C_Q3, lo: C_LO, hi: C_HI, pts: [C_N, C_AA, C_CRC], n: N_ABC, ticks: C_TICKS, yMin: -0.41, yMax: 8.83, fmt: intFmt, brackets: C_BRACKETS, title: ''});

rocPanel({left: 0, top: 600, w: 700, h: 620, padTop: 61.8, padRight: 57.1, yW: 122.8, xH: 106.4, xTickPad: 13, yTickPad: 11, xTitlePad: 15.8, yTitlePad: 27.2},
  [{data: DIAG, color: '#000', width: 2.4, dash: [10, 9], order: 10},
   {data: D_ITGA4, color: D_COLORS[0], width: 2.3, order: 3},
   {data: D_FN, color: D_COLORS[1], width: 2.3, order: 2},
   {data: D_PA, color: D_COLORS[2], width: 2.3, order: 1}]);
rocPanel({left: 720, top: 600, w: 698, h: 620, padTop: 69.2, padRight: 51.5, yW: 123.8, xH: 96.5, xTickPad: 12.5, yTickPad: 10, xTitlePad: 7.8, yTitlePad: 28.3},
  [{data: DIAG, color: '#000', width: 2.4, dash: [10, 9], order: 10},
   {data: E_ITGA4, color: D_COLORS[0], width: 2.3, order: 3},
   {data: E_FN, color: D_COLORS[1], width: 2.3, order: 2},
   {data: E_PA, color: D_COLORS[2], width: 2.3, order: 1}]);
rocPanel({left: 0, top: 1200, w: 640, h: 584, padTop: 36.9, padRight: 12.7, yW: 105.7, xH: 92.1, xTickPad: 12.3, yTickPad: 10.6, xTitlePad: 1.1, yTitlePad: 10.8},
  [{data: DIAG, color: '#000', width: 2.4, dash: [10, 9], order: 10},
   {data: F_ALL, color: F_COLORS[0], width: 2.2, order: 6},
   {data: F_PAFIT, color: F_COLORS[1], width: 2.2, order: 5},
   {data: F_FNFIT, color: F_COLORS[2], width: 2.2, order: 4},
   {data: F_FIT, color: F_COLORS[3], width: 2.2, order: 3},
   {data: F_PA, color: F_COLORS[4], width: 2.2, order: 2},
   {data: F_FN, color: F_COLORS[5], width: 2.2, order: 1}]);

boxPanel({left: 630, top: 1180, w: 315, h: 604, padTop: 15.8, padRight: 63.3, yW: 79.3, xH: 30.6, xnH: 47.4, nFont: 24, titlePad: 7, nText: {cx: 793, cy: 1751}},
  {q1: F_Q1, med: F_MED, q3: F_Q3, lo: F_LO, hi: F_HI, pts: [F_N, F_AA, F_CRC], n: N_F, ticks: F_TICKS, yMin: -0.056, yMax: 1.204, fmt: dec1, brackets: F_BRACKETS, title: 'Prediction Score',
   cutoff: CUTOFF, cutoffLabel: {x: 2.557, y: 0.567, text: 'cutoff value', font: 'bold 19px ' + FONT, color: '#C8161D', align: 'left', baseline: 'middle'}});

// Legends
legendBox({left: 413, top: 1002.9, w: 229.9, h: 110.7, lineX: 16.5, lineW: 34.8, textX: 67, rows: [22.5, 45.3, 67.8]}, D_NAMES, D_AUC, D_COLORS);
legendBox({left: 1136.3, top: 1012.5, w: 230.2, h: 111, lineX: 15.6, lineW: 34.7, textX: 66.7, rows: [22.9, 45.2, 66.6]}, D_NAMES, E_AUC, D_COLORS);
legendBox({left: 286.9, top: 1537.4, w: 340.4, h: 154.5, lineX: 15.8, lineW: 33.9, textX: 66.3, rows: [22.2, 44.5, 66.3, 88.5, 110.8, 133]}, F_NAMES, F_AUC, F_COLORS);

// Axis titles with mixed styling
addDiv('vtitle', 494, 297, 'Log <i>Fn</i> Abundance (x10<span class="sup">8</span>+1)');
addDiv('vtitle', 975, 291, 'Log <i>Pa</i> Abundance (x10<span class="sup">8</span>+1)');

// Panel letters
[['A', 1, 8], ['B', 436, 6], ['C', 938, 6], ['D', 3, 608], ['E', 755, 606], ['F', 4, 1153]].forEach(l => addDiv('letter', l[1], l[2], l[0]));

// Table
(function () {
  const t = document.createElement('table'); t.id = 'tbl';
  const cg = document.createElement('colgroup');
  for (let i = 0; i < 3; i++) { const col = document.createElement('col'); col.style.width = '156px'; cg.appendChild(col); }
  t.appendChild(cg);
  const heights = [74, 72, 73, 73];
  const hr = document.createElement('tr'); hr.style.height = heights[0] + 'px';
  TBL_HEAD.forEach(h => { const th = document.createElement('th'); th.innerHTML = h; hr.appendChild(th); });
  t.appendChild(hr);
  TBL_ROWS.forEach((r, i) => {
    const tr = document.createElement('tr'); tr.style.height = heights[i + 1] + 'px';
    const th = document.createElement('th'); th.innerHTML = r + '<br>(%)'; tr.appendChild(th);
    const c1 = document.createElement('td'); c1.innerHTML = TBL_CRC_PCT[i] + '<br>(' + TBL_CRC_FRAC[i] + ')'; tr.appendChild(c1);
    const c2 = document.createElement('td'); c2.innerHTML = TBL_AA_PCT[i] + '<br>(' + TBL_AA_FRAC[i] + ')'; tr.appendChild(c2);
    t.appendChild(tr);
  });
  page.appendChild(t);
})();
</script></body></html>
